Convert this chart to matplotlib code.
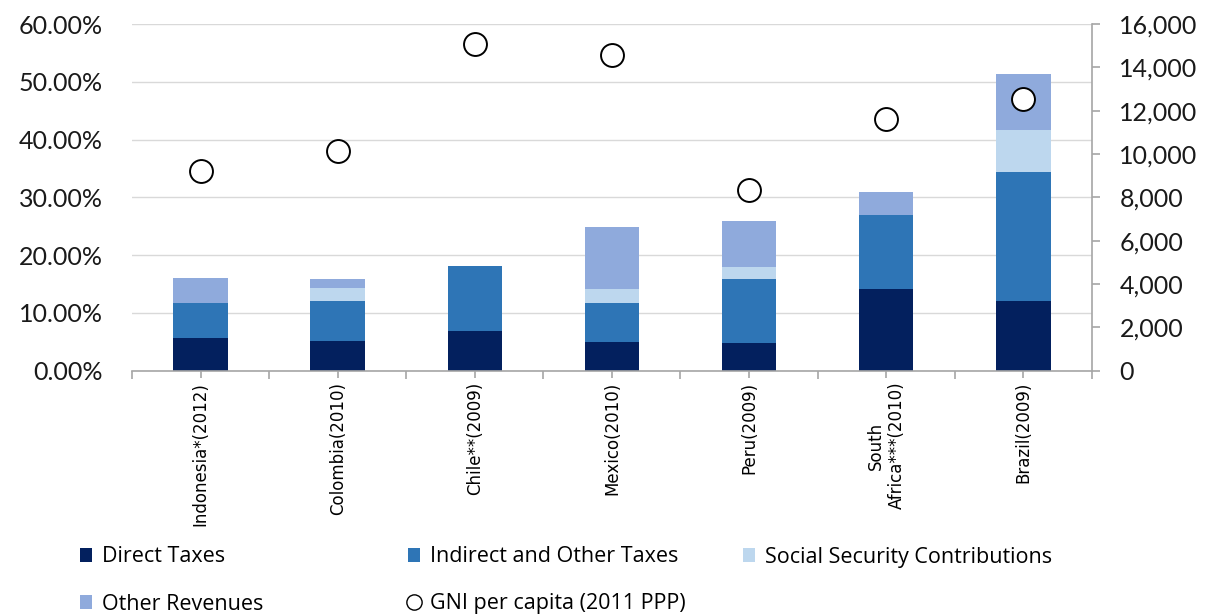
import matplotlib
matplotlib.use("Agg")
import matplotlib.pyplot as plt
from matplotlib.patches import Patch
from matplotlib.lines import Line2D
from matplotlib.ticker import FuncFormatter, FixedLocator
import numpy as np

categories = ["Indonesia*(2012)", "Colombia(2010)", "Chile**(2009)", "Mexico(2010)",
              "Peru(2009)", "South\nAfrica***(2010)", "Brazil(2009)"]
direct_taxes = [0.056, 0.051, 0.069, 0.050, 0.048, 0.142, 0.121]
indirect_taxes = [0.062, 0.070, 0.112, 0.068, 0.111, 0.127, 0.223]
social_security = [0.000, 0.022, 0.000, 0.023, 0.020, 0.000, 0.073]
other_revenues = [0.043, 0.015, 0.000, 0.108, 0.080, 0.040, 0.096]
gni_per_capita = [9220, 10150, 15060, 14570, 8340, 11600, 12520]

series_names = ["Direct Taxes", "Indirect and Other Taxes",
                "Social Security Contributions", "Other Revenues"]
series_colors = ["#03205e", "#2e75b6", "#bdd7ee", "#8faadc"]

fig = plt.figure(figsize=(12.17, 6.16), dpi=100)
ax = fig.add_axes([0.1087, 0.3982, 0.897 - 0.1087, 0.961 - 0.3982])
ax2 = ax.twinx()

x = np.arange(len(categories))
bottom = np.zeros(len(categories))
for vals, col in zip([direct_taxes, indirect_taxes, social_security, other_revenues], series_colors):
    ax.bar(x, vals, width=0.4, bottom=bottom, color=col, edgecolor="none", zorder=2)
    bottom += np.array(vals)

ax2.scatter(x, gni_per_capita, s=16.5**2, facecolor="white", edgecolor="black",
            linewidth=1.4, zorder=5)

ax.set_xlim(-0.5, len(categories) - 0.5)
ax.set_ylim(0, 0.6)
ax2.set_ylim(0, 16000)

ax.set_yticks(np.arange(0, 0.61, 0.1))
ax.yaxis.set_major_formatter(FuncFormatter(lambda v, p: f"{v*100:.2f}%"))
ax2.set_yticks(np.arange(0, 16001, 2000))
ax2.yaxis.set_major_formatter(FuncFormatter(lambda v, p: f"{int(round(v)):,}"))

ax.grid(axis="y", color="#d9d9d9", linewidth=1.0)
ax.set_axisbelow(True)

for a in (ax, ax2):
    for s in ("top", "left"):
        a.spines[s].set_visible(False)
ax.spines["right"].set_visible(False)
ax2.spines["bottom"].set_visible(False)
ax.spines["bottom"].set_color("#a6a6a6")
ax.spines["bottom"].set_linewidth(1.2)
ax2.spines["right"].set_color("#a6a6a6")
ax2.spines["right"].set_linewidth(1.2)

tick_family = ["Lato", "DejaVu Sans"]
tick_size = 18
ax.tick_params(axis="y", length=0, pad=21)
for lbl in ax.get_yticklabels():
    lbl.set_fontfamily(tick_family); lbl.set_fontsize(tick_size); lbl.set_color("#1a1a1a")
ax2.tick_params(axis="y", length=6, color="#a6a6a6", width=1.2, pad=14)
for lbl in ax2.get_yticklabels():
    lbl.set_fontfamily(tick_family); lbl.set_fontsize(tick_size); lbl.set_color("#1a1a1a")

ax.set_xticks(x)
ax.set_xticklabels(categories, rotation=90, fontsize=12, family=["DejaVu Sans"],
                   va="top", ha="center", multialignment="center")
ax.xaxis.set_minor_locator(FixedLocator(np.arange(-0.5, len(categories), 1.0)))
ax.tick_params(axis="x", which="major", length=5, color="#a6a6a6", width=1.2, pad=3)
ax.tick_params(axis="x", which="minor", length=6, color="#a6a6a6", width=1.2)

# legend
handles = [Patch(facecolor=c, edgecolor="none") for c in series_colors]
handles.append(Line2D([], [], marker="o", linestyle="none", markerfacecolor="white",
                      markeredgecolor="black", markersize=11, markeredgewidth=1.0))
labels = series_names + ["GNI per capita (2011 PPP)"]
positions = [(80, 557), (408, 557), (743, 557), (80, 604), (408, 604)]
W, H = 1217, 616
for h, l, (px, py) in zip(handles, labels, positions):
    fig.legend([h], [l], loc="center left", bbox_to_anchor=(px / W, 1 - py / H),
               frameon=False, borderpad=0, borderaxespad=0, handlelength=0.55,
               handleheight=0.6, handletextpad=0.45,
               prop={"family": ["Liberation Sans Narrow", "Open Sans", "DejaVu Sans"], "size": 15.5})

fig.savefig("out.png", dpi=100)
